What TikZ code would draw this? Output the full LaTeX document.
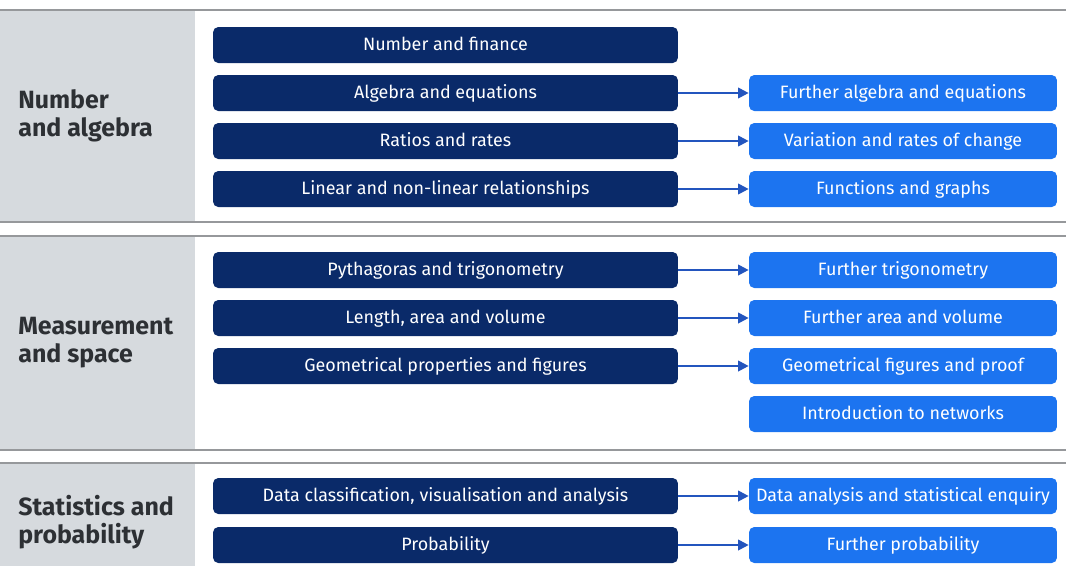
\documentclass[tikz,border=0pt]{standalone}
\usepackage{fontspec}
\setmainfont{Fira Sans}
\usetikzlibrary{arrows.meta}
\definecolor{navy}{RGB}{10,42,105}
\definecolor{brightblue}{RGB}{28,116,240}
\definecolor{panelgrey}{RGB}{214,218,222}
\definecolor{rulegrey}{RGB}{150,152,155}
\definecolor{labelgrey}{RGB}{45,48,52}
\definecolor{linkblue}{RGB}{35,85,190}
\tikzset{
  leftbox/.style={fill=navy, text=white, rounded corners=3pt, minimum width=9.3cm,
    minimum height=0.72cm, inner sep=0pt, text height=1.55ex, text depth=0.4ex,
    font=\fontsize{10.2}{11}\selectfont},
  rightbox/.style={leftbox, fill=brightblue, minimum width=6.16cm},
  area/.style={font=\bfseries\fontsize{14.2}{16}\selectfont, text=labelgrey,
    align=left, anchor=west, inner sep=0pt},
  link/.style={draw=linkblue, line width=1.1pt, -{Triangle[length=6pt,width=6pt]}}
}
\begin{document}
\begin{tikzpicture}[x=0.02cm,y=-0.02cm]
\useasboundingbox (0,0) rectangle (1066,566);
\foreach \top/\bot in {10/222, 236/450, 463/566}
  \fill[panelgrey] (0,\top) rectangle (195,\bot);
\foreach \y in {10, 222, 236, 450, 463}
  \draw[rulegrey, line width=0.8pt] (0,\y) -- (1066,\y);
% area labels
\node[area] (numalg) at (18,116) {Number\\and algebra};
\node[area] (measpace) at (18,343) {Measurement\\and space};
\node[area] (statprob) at (18,522) {Statistics and\\probability};
% left column
\foreach \n/\y/\t in {nf/45/Number and finance, ae/93/Algebra and equations,
    rr/141/Ratios and rates, lnl/189/Linear and non-linear relationships,
    pt/270/Pythagoras and trigonometry, lav/318/{Length, area and volume},
    gpf/366/Geometrical properties and figures,
    dcv/496/{Data classification, visualisation and analysis}, pr/545/Probability}
  \node[leftbox] (\n) at (445.5,\y) {\t};
% right column
\foreach \n/\y/\t in {fae/93/Further algebra and equations,
    vrc/141/Variation and rates of change, fg/189/Functions and graphs,
    ft/270/Further trigonometry, fav/318/Further area and volume,
    gfp/366/Geometrical figures and proof, itn/414/Introduction to networks,
    das/496/Data analysis and statistical enquiry, fp/545/Further probability}
  \node[rightbox] (\n) at (903,\y) {\t};
\foreach \a/\b in {ae/fae, rr/vrc, lnl/fg, pt/ft, lav/fav, gpf/gfp, dcv/das, pr/fp}
  \draw[link] (\a) -- (\b);
\end{tikzpicture}
\end{document}
